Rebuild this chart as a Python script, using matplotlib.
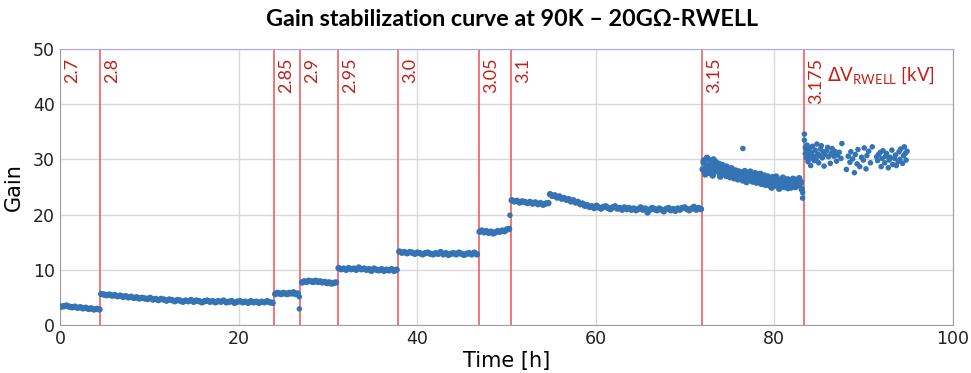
import numpy as np
import matplotlib.pyplot as plt

# HV steps [h] and voltage labels [kV]
step_times = [0.0, 4.5, 24.0, 26.9, 31.1, 37.9, 46.9, 50.5, 71.9, 83.3]
step_labels = ['2.7', '2.8', '2.85', '2.9', '2.95', '3.0', '3.05', '3.1', '3.15', '3.175']

# gain readings per voltage step (regular sampling between start and end)
seg1_t = (0.1, 4.4)
seg1_g = [3.3, 3.4, 3.5, 3.3, 3.2, 3.3, 3.1, 3.2, 3.0, 3.1, 2.9, 3.0, 2.8, 2.9, 2.8]

seg2_t = (4.6, 23.8)
seg2_g = [5.6, 5.5, 5.4, 5.5, 5.3, 5.4, 5.2, 5.3, 5.1, 5.2, 5.0, 5.1, 4.9, 5.0, 4.8, 4.9,
          4.8, 4.7, 4.9, 4.6, 4.7, 4.5, 4.7, 4.6, 4.4, 4.6, 4.5, 4.3, 4.5, 4.4, 4.2, 4.4,
          4.3, 4.5, 4.2, 4.4, 4.3, 4.1, 4.3, 4.4, 4.2, 4.3, 4.1, 4.3, 4.2, 4.4, 4.1, 4.2,
          4.3, 4.0, 4.2, 4.3, 4.1, 4.2, 4.0, 4.3, 4.1, 4.2, 4.0, 4.2, 4.1, 4.3, 4.1, 4.0]

seg3_t = (24.1, 26.6)
seg3_g = [5.6, 5.8, 5.7, 5.6, 5.8, 5.7, 5.6, 5.8, 5.7, 5.9, 5.6, 5.7]

seg4_t = (27.1, 30.9)
seg4_g = [7.7, 7.9, 7.8, 8.0, 7.9, 7.8, 8.0, 7.8, 7.9, 7.7, 7.8, 7.6, 7.7, 7.5, 7.6, 7.7]

seg5_t = (31.2, 37.7)
seg5_g = [10.3, 10.1, 10.2, 10.0, 10.3, 10.1, 10.2, 10.0, 10.4, 10.1, 10.2, 10.0,
          10.1, 9.8, 10.2, 10.0, 9.9, 10.1, 9.8, 10.0, 9.9, 10.1, 9.8, 10.0]

seg6_t = (38.0, 46.7)
seg6_g = [13.3, 13.1, 13.2, 13.0, 13.2, 13.1, 12.9, 13.1, 13.0, 12.8, 13.0, 13.1, 12.9,
          12.8, 13.0, 12.9, 13.2, 12.8, 13.0, 12.7, 12.9, 13.0, 12.8, 13.1, 12.9, 12.7,
          12.9, 13.0, 12.8, 13.1, 12.8]

seg7_t = (47.0, 50.3)
seg7_g = [16.9, 17.1, 16.8, 17.0, 16.7, 16.9, 16.6, 16.8, 17.0, 16.9, 17.1, 17.0, 17.3, 17.4]

seg8a_t = (50.6, 54.7)
seg8a_g = [22.6, 22.4, 22.5, 22.2, 22.4, 22.3, 22.1, 22.3, 22.0, 22.2, 21.9, 22.1, 21.8,
           22.0, 22.1]

seg8b_t = (54.9, 71.8)
seg8b_g = [23.7, 23.4, 23.5, 23.1, 23.3, 22.9, 23.0, 22.7, 22.8, 22.4, 22.6, 22.2, 22.3,
           21.9, 22.0, 21.6, 21.7, 21.4, 21.5, 21.2, 21.6, 21.3, 21.1, 21.4, 21.5, 21.2,
           21.0, 21.3, 21.5, 21.1, 21.2, 20.9, 21.3, 21.0, 21.2, 20.9, 21.1, 20.8, 21.0,
           21.3, 20.9, 21.1, 20.4, 20.9, 21.2, 21.0, 20.8, 21.1, 20.9, 20.6, 21.0, 21.2,
           20.8, 21.0, 20.7, 21.1, 20.9, 21.2, 21.3, 21.0, 20.8, 21.1, 21.4, 20.9, 21.2, 21.0]

seg9a_t = (72.0, 83.1)
seg9a_g = [28.2, 29.8, 27.3, 28.9, 30.1, 27.8, 28.6, 29.4, 27.1, 28.8, 29.6, 27.9, 28.3,
           29.2, 26.9, 28.1, 28.9, 27.4, 28.5, 27.0, 28.2, 27.7, 26.8, 28.4, 27.5, 26.6,
           28.0, 27.2, 26.4, 27.8, 26.9, 27.5, 26.2, 27.6, 26.7, 25.9, 27.3, 26.5, 27.8,
           26.1, 27.0, 26.4, 27.5, 25.8, 26.8, 26.2, 27.4, 25.6, 26.6, 27.1, 25.4, 26.3,
           26.9, 25.7, 26.5, 24.9, 26.8, 26.0, 25.3, 26.4, 25.8, 24.7, 26.2, 25.5, 26.7,
           25.1, 25.9, 26.3, 24.8, 25.6, 26.1, 25.2, 26.5, 25.8, 25.0, 26.0, 25.4, 26.2,
           25.7, 24.6]

seg9b_t = (72.1, 83.0)
seg9b_g = [29.5, 28.0, 30.3, 27.6, 29.1, 28.4, 30.0, 27.9, 29.3, 28.6, 27.5, 29.0, 28.1,
           27.3, 28.7, 27.8, 26.9, 28.2, 27.4, 26.7, 27.9, 27.1, 26.5, 27.6, 26.8, 27.9,
           26.3, 27.2, 26.6, 27.5, 26.0, 26.9, 27.3, 26.2, 26.7, 25.6, 27.0, 26.4, 25.9,
           26.8, 25.3, 26.5, 26.1, 25.7, 26.9, 25.2, 26.3, 25.8, 26.6, 25.0, 25.9, 26.4,
           25.5, 24.9, 26.1, 25.7, 26.3, 25.4, 26.6, 25.9]

# last step: sparse readings with their own times
seg10_time = [83.4, 83.4, 83.5, 83.5, 83.6, 83.6, 83.7, 83.8, 83.8, 83.9, 84.0, 84.1, 84.1,
              84.2, 84.3, 84.4, 84.5, 84.6, 84.7, 84.8, 84.9, 85.0, 85.1, 85.2, 85.3, 85.4,
              85.5, 85.6, 85.7, 85.9, 86.0, 86.1, 86.3, 86.4, 86.5, 86.7, 86.8, 87.0, 87.1,
              87.3, 87.5, 87.6,
              88.1, 88.3, 88.5, 88.6, 88.8, 89.0, 89.1, 89.3, 89.4, 89.6, 89.8, 90.0, 90.1,
              90.3, 90.4, 90.6, 90.8, 91.0,
              91.5, 91.6, 91.7, 91.9, 92.0, 92.1, 92.2, 92.4, 92.5, 92.6, 92.8, 92.9, 93.0,
              93.2, 93.3, 93.5, 93.6, 93.7, 93.9, 94.0, 94.1, 94.2, 94.4, 94.5, 94.6, 94.7,
              94.8, 94.9]
seg10_gain = [34.6, 33.5, 32.2, 31.0, 30.3, 31.8, 32.6, 29.6, 30.9, 31.5, 32.1, 30.2, 28.9,
              31.2, 32.4, 30.6, 29.8, 31.7, 30.1, 32.8, 31.0, 29.4, 30.7, 31.9, 32.5, 30.3,
              31.4, 28.8, 30.9, 31.6, 32.2, 30.5, 29.3, 31.1, 32.0, 30.6, 31.5, 29.7, 30.8,
              31.3, 30.2, 32.9,
              28.2, 30.6, 29.5, 31.4, 30.1, 27.6, 30.9, 29.2, 31.8, 28.7, 30.4, 29.9, 32.1,
              28.3, 30.7, 31.5, 29.4, 32.3,
              30.5, 29.8, 30.9, 31.3, 28.7, 30.2, 31.6, 29.4, 30.6, 31.1, 28.5, 29.9, 30.4,
              31.7, 29.1, 30.2, 30.8, 28.9, 29.6, 31.4, 30.0, 31.9, 29.3, 30.7, 32.3, 31.1,
              29.9, 31.5]

# isolated readings
extra_t = [26.8, 26.8, 50.4, 76.5, 83.2, 83.2]
extra_g = [5.1, 2.9, 19.9, 32.0, 24.0, 23.0]

segments = [(seg1_t, seg1_g), (seg2_t, seg2_g), (seg3_t, seg3_g), (seg4_t, seg4_g),
            (seg5_t, seg5_g), (seg6_t, seg6_g), (seg7_t, seg7_g), (seg8a_t, seg8a_g),
            (seg8b_t, seg8b_g), (seg9a_t, seg9a_g), (seg9b_t, seg9b_g)]

blue = '#3474b4'
line_red = '#f26a6a'
text_red = '#c0201a'
msize = 22

fig = plt.figure(figsize=(9.71, 3.73), dpi=100)
ax = fig.add_axes([0.062, 0.129, 0.919, 0.739])

for (t0, t1), g in segments:
    t = np.linspace(t0, t1, len(g))
    ax.scatter(t, g, s=msize, color=blue, edgecolors='none', zorder=3)
ax.scatter(seg10_time, seg10_gain, s=16, color=blue, edgecolors='none', zorder=3)
ax.scatter(extra_t, extra_g, s=16, color=blue, edgecolors='none', zorder=3)

for x, lab in zip(step_times, step_labels):
    if x > 0:
        ax.axvline(x, color=line_red, lw=1.3, zorder=2)
    ax.annotate(lab, xy=(x, 50), xytext=(3, -6), textcoords='offset points',
                rotation=90, ha='left', va='top', color=text_red,
                fontsize=13, family='Lato')

ax.text(0.98, 0.905, r'$\Delta$V$_{\mathregular{RWELL}}$ [kV]', transform=ax.transAxes,
        ha='right', va='center', color=text_red, fontsize=13.5, family='Lato')

ax.set_xlim(0, 100)
ax.set_ylim(0, 50)
ax.set_xticks([0, 20, 40, 60, 80, 100])
ax.set_yticks([0, 10, 20, 30, 40, 50])
ax.grid(True, color='#d9d9d9', lw=1, zorder=0)
ax.set_axisbelow(True)
ax.tick_params(length=0, labelsize=12.5, pad=4, colors='#222222')
for side in ['left', 'right', 'bottom']:
    ax.spines[side].set_color('#a0a0a0')
ax.spines['top'].set_color('#a8a8f0')

ax.set_xlabel('Time [h]', fontsize=15, labelpad=2)
ax.set_ylabel('Gain', fontsize=15, labelpad=6)
fig.suptitle('Gain stabilization curve at 90K \u2013 20G\u03a9-RWELL', x=0.527, y=0.975,
             fontsize=16.8, fontweight='bold', family='Lato')

fig.savefig('out.png', dpi=100)
